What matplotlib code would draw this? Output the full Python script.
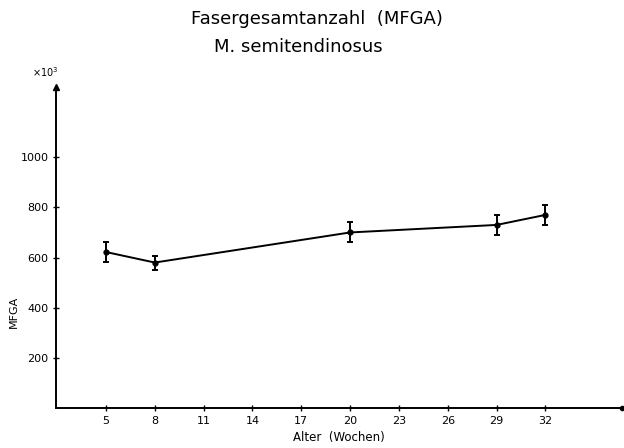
import numpy as np
import matplotlib.pyplot as plt

# Alter (Wochen) vs. MFGA (x10^3)
alter = [5, 8, 20, 29, 32]
mfga = [622, 580, 700, 730, 770]
fehler = [40, 28, 40, 40, 40]
xticks = [5, 8, 11, 14, 17, 20, 23, 26, 29, 32]
yticks = [200, 400, 600, 800, 1000]

plt.rcParams['font.family'] = ['DejaVu Sans']

fig = plt.figure(figsize=(6.24, 4.48), dpi=100)
ax = fig.add_axes([0.0897, 0.0893, 0.907, 0.7165])

ax.errorbar(alter, mfga, yerr=fehler, color='black', lw=1.4, marker='o',
            markersize=3.5, capsize=2.5, capthick=1.4, elinewidth=1.4)

ax.set_xlim(1.93, 36.7)
ax.set_ylim(0, 1280)
ax.set_xticks(xticks)
ax.set_yticks(yticks)
ax.tick_params(axis='both', direction='inout', length=4, width=1, labelsize=8)
ax.spines['top'].set_visible(False)
ax.spines['right'].set_visible(False)
ax.spines['left'].set_linewidth(1.4)
ax.spines['bottom'].set_linewidth(1.4)

# arrow on y axis, dot at end of x axis
ax.plot(1.93, 1280, marker='^', color='black', markersize=4, clip_on=False)
ax.plot(36.7, 0, marker='o', color='black', markersize=3, clip_on=False)

ax.set_xlabel('Alter  (Wochen)', fontsize=8.5, labelpad=4)
ax.set_ylabel('MFGA', fontsize=8)
ax.yaxis.set_label_coords(-0.065, 0.3)

fig.text(0.0725, 0.838, r'$\times 10^3$', fontsize=7, ha='center', va='center')
fig.text(0.508, 0.958, 'Fasergesamtanzahl  (MFGA)', fontsize=13, ha='center',
         va='center')
fig.text(0.343, 0.895, 'M. semitendinosus', fontsize=13, ha='left',
         va='center')

fig.savefig('out.png', dpi=100)
plt.close(fig)
